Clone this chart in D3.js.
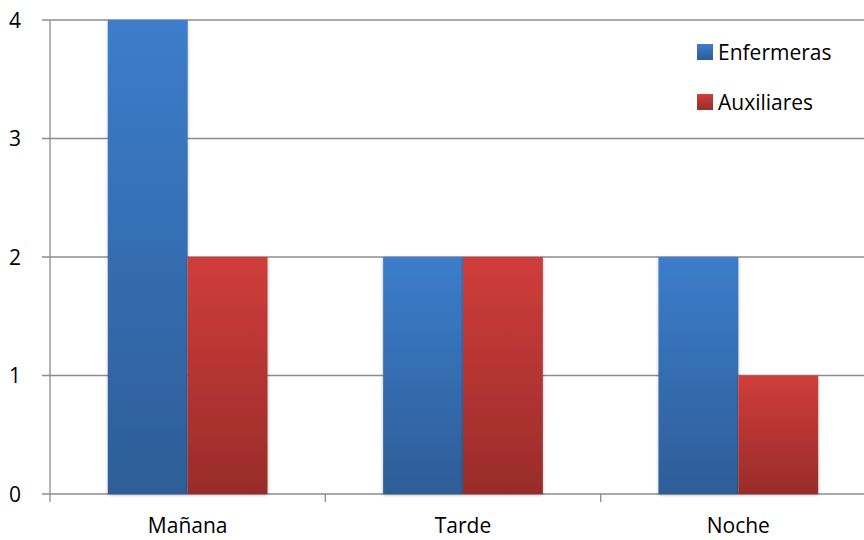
<!DOCTYPE html>
<html>
<head>
<meta charset="utf-8">
<script src="https://cdn.jsdelivr.net/npm/d3@7"></script>
<style>
  html, body { margin: 0; padding: 0; background: #fff; }
  svg { display: block; font-family: "Open Sans", Lato, sans-serif; }
</style>
</head>
<body>
<svg id="chart" width="864" height="540"></svg>
<script>
// Staff per shift
const turnos = ["Mañana", "Tarde", "Noche"];
const series = ["Enfermeras", "Auxiliares"];
const enfermeras = [4, 2, 2];
const auxiliares = [2, 2, 1];
const yTicks = [0, 1, 2, 3, 4];

const values = { Enfermeras: enfermeras, Auxiliares: auxiliares };
const colors = {
  Enfermeras: { top: "#3c7dcb", bottom: "#2d5d97" },
  Auxiliares: { top: "#cf3d3a", bottom: "#992c2a" }
};

const svg = d3.select("#chart");
const margin = { left: 50, right: -12, top: 20, bottom: 46 };
const W = 864, H = 540;
const fontSize = 21;

const x = d3.scaleBand().domain(turnos).range([margin.left, W - margin.right]).paddingInner(0.42).paddingOuter(0.21);
const xs = d3.scaleBand().domain(series).range([0, x.bandwidth()]);
const y = d3.scaleLinear().domain([0, 4]).range([H - margin.bottom, margin.top]);

const defs = svg.append("defs");
series.forEach((s, i) => {
  const g = defs.append("linearGradient").attr("id", "grad" + i)
    .attr("x1", 0).attr("y1", 0).attr("x2", 0).attr("y2", 1);
  g.append("stop").attr("offset", 0).attr("stop-color", colors[s].top);
  g.append("stop").attr("offset", 1).attr("stop-color", colors[s].bottom);
});
const shadow = defs.append("filter").attr("id", "shadow").attr("x", "-10%").attr("y", "-10%").attr("width", "120%").attr("height", "120%");
shadow.append("feDropShadow").attr("dx", 0).attr("dy", 1).attr("stdDeviation", 1.5).attr("flood-color", "#000").attr("flood-opacity", 0.3);

// Horizontal gridlines
svg.append("g").selectAll("line").data(yTicks).join("line")
  .attr("x1", margin.left - 8).attr("x2", W)
  .attr("y1", d => y(d)).attr("y2", d => y(d))
  .attr("stroke", "#8c8c8c").attr("stroke-width", 1.3);

// Bars
const groups = svg.append("g").selectAll("g").data(turnos).join("g")
  .attr("transform", d => `translate(${x(d)},0)`);
groups.selectAll("rect").data((d, i) => series.map((s, j) => ({ s, j, v: values[s][i] })))
  .join("rect")
  .attr("x", d => xs(d.s)).attr("width", xs.bandwidth())
  .attr("y", d => y(d.v)).attr("height", d => y(0) - y(d.v))
  .attr("fill", d => `url(#grad${d.j})`)
  .attr("filter", "url(#shadow)");

// Y axis line
svg.append("line").attr("x1", margin.left).attr("x2", margin.left)
  .attr("y1", y(4)).attr("y2", y(0) + 1)
  .attr("stroke", "#8c8c8c").attr("stroke-width", 1.3);

// Y tick labels
svg.append("g").selectAll("text").data(yTicks).join("text")
  .attr("x", 21).attr("y", d => y(d)).attr("dy", "0.36em")
  .attr("text-anchor", "end").attr("font-size", fontSize).attr("fill", "#000")
  .text(d => d);

// X category boundary ticks
const step = x.step();
const bounds = d3.range(turnos.length + 1).map(i => margin.left + i * step);
svg.append("g").selectAll("line").data(bounds).join("line")
  .attr("x1", d => d).attr("x2", d => d)
  .attr("y1", y(0)).attr("y2", y(0) + 8)
  .attr("stroke", "#8c8c8c").attr("stroke-width", 1.3);

// X labels
svg.append("g").selectAll("text").data(turnos).join("text")
  .attr("x", d => x(d) + x.bandwidth() / 2).attr("y", 533)
  .attr("text-anchor", "middle").attr("font-size", fontSize).attr("fill", "#000")
  .text(d => d);

// Legend
const legend = svg.append("g").selectAll("g").data(series).join("g")
  .attr("transform", (d, i) => `translate(697,${44 + i * 50})`);
legend.append("rect").attr("width", 16).attr("height", 16)
  .attr("fill", (d, i) => `url(#grad${i})`);
legend.append("text").attr("x", 21).attr("y", 8).attr("dy", "0.36em")
  .attr("font-size", fontSize).attr("fill", "#000").text(d => d);
</script>
</body>
</html>
